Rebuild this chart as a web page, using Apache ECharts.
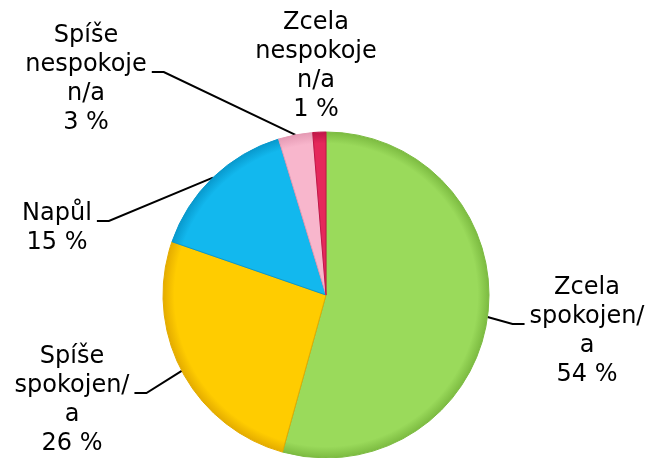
<!DOCTYPE html>
<html>
<head>
<meta charset="utf-8">
<script src="https://cdn.jsdelivr.net/npm/echarts@6/dist/echarts.min.js"></script>
<style>
  html, body { margin: 0; padding: 0; background: #fff; }
  #chart { width: 650px; height: 458px; }
</style>
</head>
<body>
<div id="chart"></div>
<script>
// data (slice sizes estimated from the angles, labels show rounded %)
const categories = [
  'Zcela\nspokojen/\na',
  'Spíše\nspokojen/\na',
  'Napůl',
  'Spíše\nnespokoje\nn/a',
  'Zcela\nnespokoje\nn/a'
]
const values = [54.3, 26.0, 15.0, 3.4, 1.3]

const colors = ['#9ADA5B', '#FFCC00', '#12B8EE', '#F8B6CC', '#E5285B']
const rims = ['#7CBB41', '#E4AC00', '#0899CD', '#E59AB4', '#C01647']

// label centres (leader lines come in from the pie side)
const labelPos = [[587, 331], [72, 400], [57, 228], [86, 79], [316, 66]]

const cx = 326
const cy = 295
const r = 163

const chart = echarts.init(document.getElementById('chart'))

const data = values.map((v, i) => ({
  name: categories[i],
  value: v,
  itemStyle: {
    color: new echarts.graphic.RadialGradient(cx, cy, r, [
      {offset: 0, color: colors[i]},
      {offset: 0.93, color: colors[i]},
      {offset: 1, color: rims[i]}
    ], true),
    borderColor: rims[i],
    borderWidth: 1
  },
  labelLine: {show: i !== 4}
}))

const option = {
  backgroundColor: '#fff',
  animation: false,
  series: [
    {
      type: 'pie',
      center: [cx, cy],
      radius: r,
      startAngle: 90,
      clockwise: true,
      avoidLabelOverlap: false,
      data: data,
      label: {
        show: true,
        position: 'outside',
        color: '#000',
        fontFamily: 'DejaVu Sans',
        fontSize: 24,
        lineHeight: 29,
        align: 'center',
        formatter: p => p.name + '\n' + Math.round(p.value) + ' %'
      },
      labelLine: {
        show: true,
        smooth: false,
        lineStyle: {color: '#000', width: 2}
      },
      labelLayout: function (params) {
        const i = params.dataIndex
        const pos = labelPos[i]
        const w = params.labelRect.width
        const res = {x: pos[0], y: pos[1], align: 'center', verticalAlign: 'middle'}
        const pts = params.labelLinePoints
        if (pts && i !== 4) {
          const isLeft = pos[0] < cx
          const endX = isLeft ? pos[0] + w / 2 + 5 : pos[0] - w / 2 - 5
          const endY = pos[1] - 7
          const elbowX = isLeft ? endX + 12 : endX - 12
          res.labelLinePoints = [pts[0], [elbowX, endY], [endX, endY]]
        }
        return res
      }
    }
  ]
}

chart.setOption(option)
</script>
</body>
</html>
